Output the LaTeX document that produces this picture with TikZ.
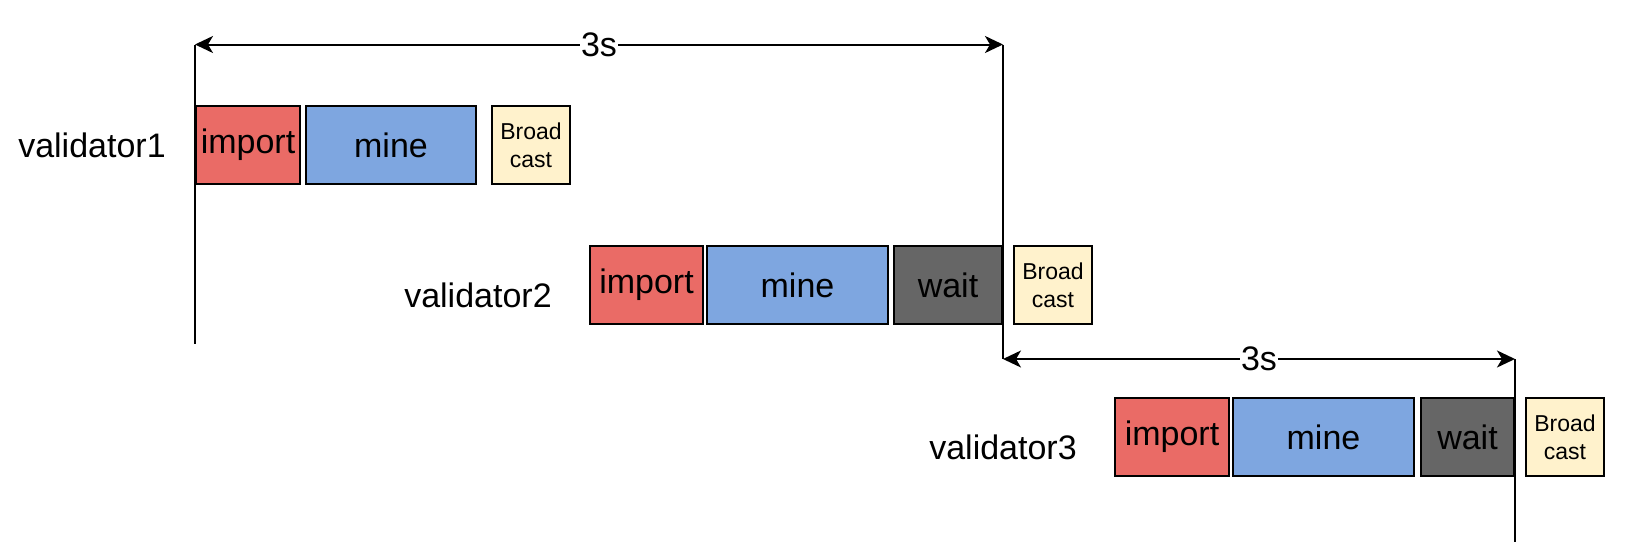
\documentclass[tikz,border=0pt]{standalone}
\usepackage{fontspec}
\setmainfont{Liberation Sans}
\usetikzlibrary{arrows.meta}

\definecolor{importred}{HTML}{EA6B66}
\definecolor{mineblue}{HTML}{7EA6E0}
\definecolor{waitgray}{HTML}{666666}
\definecolor{castyellow}{HTML}{FFF2CC}

\tikzset{
  phase/.style={draw, rectangle, line width=2pt, minimum height=78pt, inner sep=0pt,
    font=\fontsize{34}{40}\selectfont},
  importbox/.style={phase, fill=importred},
  minebox/.style={phase, fill=mineblue},
  waitbox/.style={phase, fill=waitgray},
  castbox/.style={phase, fill=castyellow, minimum width=78pt, align=center,
    font=\fontsize{23}{28}\selectfont},
  vlabel/.style={font=\fontsize{34}{40}\selectfont},
  timeline/.style={line width=2pt},
  span/.style={line width=2pt, {Stealth[length=18pt,width=17pt,inset=5pt]}-{Stealth[length=18pt,width=17pt,inset=5pt]}},
  spanlabel/.style={fill=white, inner sep=1pt, font=\fontsize{34}{40}\selectfont}
}

\begin{document}
\begin{tikzpicture}[x=1pt, y=-1pt]
        \useasboundingbox (0,0) rectangle (1626,554);

        % Validator 1
        \node[vlabel] at (92, 145) (val1) {validator1};
        \node[importbox, minimum width=104pt] at (248, 145) (imp1) {import};
        \node[minebox, minimum width=170pt] at (391, 145) (mine1) {mine};
        \node[castbox] at (531, 145) (cast1) {Broad\\cast};

        % Validator 2
        \node[vlabel] at (478, 295) (val2) {validator2};
        \node[importbox, minimum width=113pt] at (646.5, 285) (imp2) {import};
        \node[minebox, minimum width=181pt] at (797.5, 285) (mine2) {mine};
        \node[waitbox, minimum width=108pt] at (948, 285) (wait2) {wait};
        \node[castbox] at (1053, 285) (cast2) {Broad\\cast};

        % Validator 3
        \node[vlabel] at (1003, 447) (val3) {validator3};
        \node[importbox, minimum width=114pt] at (1172, 437) (imp3) {import};
        \node[minebox, minimum width=181pt] at (1323.5, 437) (mine3) {mine};
        \node[waitbox, minimum width=93pt] at (1467.5, 437) (wait3) {wait};
        \node[castbox] at (1565, 437) (cast3) {Broad\\cast};

        % Linee temporali
        \coordinate (start1) at (195, 44.5);
        \coordinate (end1) at (195, 344);
        \coordinate (start2) at (1003, 44.5);
        \coordinate (mid2) at (1003, 359);
        \coordinate (start3) at (1515, 359);
        \coordinate (end3) at (1515, 542);
        \draw[timeline] (start1) -- (end1);
        \draw[timeline] (start2) -- (mid2);
        \draw[timeline] (start3) -- (end3);

        % Frecce
        \draw[span] (start1) -- (start2) node[midway, spanlabel] (slot1) {3s};
        \draw[span] (mid2) -- (start3) node[midway, spanlabel] (slot2) {3s};
    \end{tikzpicture}
\end{document}
